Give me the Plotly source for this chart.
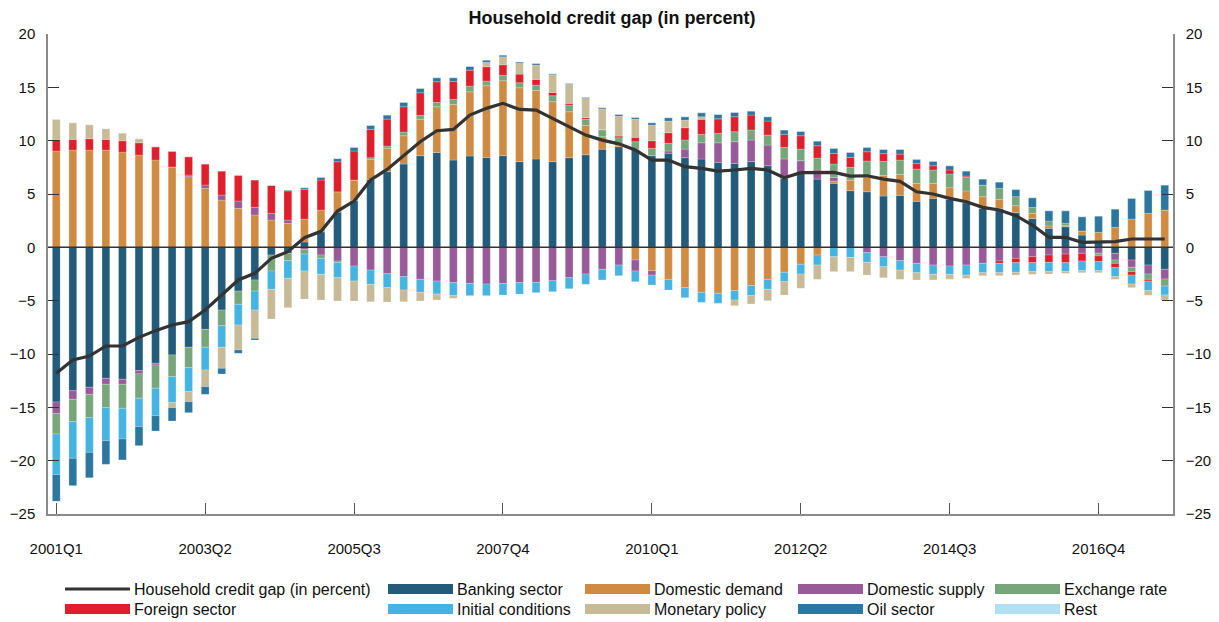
"""
    Purpose: Household credit gap decomposition, stacked contributions by driver plus the gap itself.
    Outputs:
        out.html: self-contained html file with the chart.
"""
##########==========##########==========##########==========##########==========##########==========
## INITIALIZE

import plotly.graph_objects as go

## quarters 2001Q1 .. 2017Q4
quarters = ['%dQ%d' % (y, q) for y in range(2001, 2018) for q in range(1, 5)]
tick_quarters = ['2001Q1', '2003Q2', '2005Q3', '2007Q4', '2010Q1', '2012Q2', '2014Q3', '2016Q4']

credit_gap = [
    -11.8, -10.56, -10.19, -9.25, -9.25, -8.44, -7.81, -7.28, -6.97, -5.88,
    -4.47, -3.06, -2.44, -1.03, -0.41, 0.9, 1.5, 3.4, 4.34, 6.31,
    7.31, 8.65, 9.9, 10.93, 11.06, 12.4, 13.03, 13.5, 12.93, 12.87,
    12.09, 11.37, 10.52, 10.05, 9.7, 9.12, 8.18, 8.18, 7.56, 7.4,
    7.15, 7.25, 7.4, 7.25, 6.53, 7.0, 7.0, 7.03, 6.68, 6.71,
    6.4, 6.18, 5.21, 5.0, 4.59, 4.28, 3.75, 3.5, 2.97, 2.09,
    0.94, 0.94, 0.47, 0.47, 0.53, 0.78, 0.8, 0.78]

banking_sector = [
    -14.5, -13.44, -13.12, -12.28, -12.37, -11.56, -10.87, -10.09, -9.37, -7.69,
    -5.88, -4.1, -3.06, -0.72, -0.56, 0.5, 1.45, 3.3, 4.37, 6.37,
    7.09, 7.81, 8.59, 8.9, 8.18, 8.56, 8.43, 8.59, 8.03, 8.28,
    8.03, 8.4, 8.68, 9.2, 9.43, 9.18, 8.59, 8.81, 8.4, 8.28,
    7.97, 7.87, 8.03, 7.65, 6.47, 7.03, 6.4, 6.0, 5.31, 5.21,
    4.81, 4.87, 4.31, 4.59, 4.5, 4.18, 3.65, 3.65, 3.25, 2.69,
    1.78, 1.93, 1.15, 0.6, -0.56, -1.19, -1.66, -2.06]

domestic_demand = [
    9.03, 9.12, 9.12, 9.12, 8.93, 8.65, 8.18, 7.53, 6.62, 5.53,
    4.43, 3.65, 3.03, 2.56, 2.25, 2.15, 2.05, 1.9, 1.94, 1.88,
    2.19, 2.65, 3.41, 4.28, 5.22, 6.02, 6.72, 7.03, 6.93, 6.43,
    5.62, 4.31, 2.75, 1.17, 0.15, -1.19, -2.19, -3.0, -3.78, -4.22,
    -4.31, -4.06, -3.59, -3.0, -2.34, -1.59, -0.72, 0.21, 1.0, 1.35,
    1.92, 1.97, 1.69, 1.41, 1.09, 1.1, 1.1, 0.85, 0.65, 0.5,
    0.22, 0.1, 0.38, 0.81, 1.87, 2.65, 3.19, 3.5]

domestic_supply = [
    -1.1, -0.81, -0.66, -0.56, -0.47, -0.31, -0.16, 0.0, 0.16, 0.31,
    0.47, 0.69, 0.72, 0.63, 0.31, -0.19, -0.72, -1.28, -1.75, -2.13,
    -2.47, -2.75, -3.0, -3.16, -3.31, -3.38, -3.44, -3.38, -3.31, -3.28,
    -3.13, -2.85, -2.5, -2.06, -1.66, -1.03, -0.41, 0.22, 0.81, 1.52,
    1.83, 2.03, 2.03, 1.94, 1.81, 1.09, 0.85, 0.35, 0.0, -0.5,
    -0.88, -1.25, -1.5, -1.66, -1.75, -1.66, -1.5, -1.28, -1.03, -0.88,
    -0.72, -0.63, -0.56, -0.56, -0.63, -0.68, -0.84, -0.91]

exchange_rate = [
    -1.9, -2.09, -2.19, -2.19, -2.25, -2.28, -2.18, -2.04, -1.91, -1.68,
    -1.47, -1.24, -1.04, -1.5, -0.69, -0.44, -0.31, -0.15, 0.0, 0.15,
    0.21, 0.35, 0.37, 0.41, 0.47, 0.54, 0.44, 0.5, 0.47, 0.5,
    0.56, 0.63, 0.57, 0.66, 0.69, 0.72, 0.69, 0.72, 0.85, 0.79,
    0.88, 0.94, 0.94, 0.93, 1.09, 1.09, 1.12, 1.25, 1.19, 1.53,
    1.33, 1.34, 1.34, 1.25, 1.28, 1.28, 1.09, 1.03, 0.85, 0.56,
    0.47, 0.22, 0.0, -0.25, -0.31, -0.41, -0.5, -0.66]

foreign_sector = [
    1.09, 1.0, 1.06, 1.0, 1.06, 1.15, 1.25, 1.47, 1.71, 1.97,
    2.25, 2.41, 2.56, 2.62, 2.72, 2.78, 2.81, 2.82, 2.72, 2.66,
    2.53, 2.37, 2.12, 1.93, 1.69, 1.5, 1.34, 0.99, 0.81, 0.53,
    0.31, 0.16, 0.15, 0.0, 0.16, 0.41, 0.71, 0.99, 1.15, 1.41,
    1.37, 1.4, 1.4, 1.32, 1.22, 1.25, 1.15, 1.0, 0.93, 0.87,
    0.72, 0.56, 0.5, 0.4, 0.38, 0.12, 0.0, -0.22, -0.41, -0.56,
    -0.69, -0.81, -0.72, -0.53, -0.41, -0.32, -0.16, 0.0]

initial_conditions = [
    -3.8, -3.44, -3.25, -3.09, -2.88, -2.66, -2.57, -2.43, -2.25, -2.13,
    -2.02, -1.94, -1.78, -1.72, -1.65, -1.59, -1.5, -1.42, -1.41, -1.34,
    -1.31, -1.25, -1.22, -1.22, -1.22, -1.15, -1.09, -1.09, -1.07, -0.97,
    -1.03, -1.03, -0.97, -1.0, -1.0, -1.0, -0.93, -1.0, -0.94, -0.94,
    -0.94, -0.88, -0.94, -0.94, -0.88, -0.91, -0.94, -0.88, -0.94, -0.91,
    -0.94, -0.88, -0.88, -0.87, -0.78, -0.94, -0.88, -0.88, -0.9, -0.84,
    -0.87, -0.84, -0.91, -0.85, -0.84, -0.84, -0.9, -0.84]

monetary_policy = [
    1.88, 1.56, 1.31, 1.0, 0.72, 0.38, 0.0, -0.47, -0.94, -1.56,
    -1.97, -2.34, -2.65, -2.78, -2.76, -2.63, -2.41, -2.18, -1.87, -1.63,
    -1.35, -1.1, -0.81, -0.56, -0.25, 0.0, 0.41, 0.75, 1.0, 1.35,
    1.66, 1.78, 1.81, 1.95, 1.87, 1.71, 1.47, 1.1, 0.72, 0.24,
    0.0, -0.53, -0.78, -1.06, -1.25, -1.34, -1.34, -1.4, -1.34, -1.19,
    -1.03, -0.87, -0.68, -0.53, -0.47, -0.31, -0.28, -0.28, -0.26, -0.25,
    -0.22, -0.16, -0.19, -0.19, -0.25, -0.34, -0.44, -0.47]

oil_sector = [
    -2.5, -2.56, -2.38, -2.22, -1.96, -1.78, -1.44, -1.25, -1.03, -0.72,
    -0.53, -0.31, -0.16, 0.0, 0.08, 0.16, 0.25, 0.3, 0.34, 0.37,
    0.38, 0.41, 0.41, 0.38, 0.34, 0.34, 0.21, 0.16, 0.13, 0.15,
    0.09, 0.09, 0.1, 0.12, 0.16, 0.16, 0.22, 0.31, 0.31, 0.38,
    0.41, 0.41, 0.37, 0.4, 0.41, 0.41, 0.44, 0.47, 0.47, 0.41,
    0.4, 0.44, 0.41, 0.41, 0.4, 0.47, 0.56, 0.59, 0.68, 0.9,
    0.96, 1.18, 1.34, 1.52, 1.72, 1.94, 2.15, 2.34]

rest = [0.0] * 68

series_names = ['Banking sector', 'Domestic demand', 'Domestic supply', 'Exchange rate',
                'Foreign sector', 'Initial conditions', 'Monetary policy', 'Oil sector', 'Rest']
series_values = [banking_sector, domestic_demand, domestic_supply, exchange_rate,
                 foreign_sector, initial_conditions, monetary_policy, oil_sector, rest]
line_name = 'Household credit gap (in percent)'

## define parameters
params = dict()
params['width'] = 1219
params['height'] = 622
params['font'] = 'Liberation Sans, Arial, Helvetica, sans-serif'
params['colors'] = {
    'Banking sector': '#235b7b',
    'Domestic demand': '#d08b42',
    'Domestic supply': '#985a98',
    'Exchange rate': '#77a67b',
    'Foreign sector': '#e01f2d',
    'Initial conditions': '#45b4e2',
    'Monetary policy': '#c7ba97',
    'Oil sector': '#2c779f',
    'Rest': '#b2dff2',
    }
params['line_color'] = '#333333'
params['axis_color'] = '#8a8a8a'
params['plot_box'] = (48, 1173, 514, 34)   # left, right, bottom, top in pixels


##########==========##########==========##########==========##########==========##########==========
## COMPONENT FUNCTIONS

def build_traces():
    """Stacked contribution bars plus the credit gap line"""
    traces = []
    for name, values in zip(series_names, series_values):
        traces.append(go.Bar(
            x = quarters, y = values, name = name,
            marker = dict(color = params['colors'][name],
                          line = dict(color = 'rgba(255,255,255,0.35)', width = 0.6)),
            width = 0.47, showlegend = False,
            ))
    traces.append(go.Scatter(
        x = quarters, y = credit_gap, name = line_name, mode = 'lines',
        line = dict(color = params['line_color'], width = 3.2), showlegend = False,
        ))
    ## invisible twin so that the right-hand axis is drawn
    traces.append(go.Scatter(
        x = quarters, y = credit_gap, yaxis = 'y2', mode = 'lines',
        line = dict(width = 0), hoverinfo = 'skip', showlegend = False,
        ))
    return traces


def build_legend():
    """Hand-drawn legend with wide swatches, two rows of five"""
    plot_l, plot_r, plot_b, plot_t = params['plot_box']
    to_px = lambda x: (x - plot_l) / (plot_r - plot_l)
    to_py = lambda y: (plot_b - y) / (plot_b - plot_t)
    entries = [line_name] + series_names
    swatch_x = [65, 388, 585, 798, 995]
    row_y = [589, 609]
    shapes, annotations = [], []
    for i, name in enumerate(entries):
        row, col = divmod(i, 5)
        x0, y0 = swatch_x[col], row_y[row]
        if name == line_name:
            shapes.append(dict(type = 'line', xref = 'paper', yref = 'paper',
                               x0 = to_px(x0), x1 = to_px(x0 + 65), y0 = to_py(y0), y1 = to_py(y0),
                               line = dict(color = params['line_color'], width = 3)))
        else:
            shapes.append(dict(type = 'rect', xref = 'paper', yref = 'paper',
                               x0 = to_px(x0), x1 = to_px(x0 + 65),
                               y0 = to_py(y0 - 5), y1 = to_py(y0 + 5),
                               fillcolor = params['colors'][name], line = dict(width = 0)))
        annotations.append(dict(text = name, xref = 'paper', yref = 'paper',
                                x = to_px(x0 + 67), y = to_py(y0), xanchor = 'left',
                                yanchor = 'middle', showarrow = False,
                                font = dict(size = 16, color = '#111111')))
    return shapes, annotations


def create_figure():
    fig = go.Figure(build_traces())
    shapes, annotations = build_legend()
    ## zero line drawn over the bars
    shapes.append(dict(type = 'line', xref = 'paper', yref = 'y', x0 = 0, x1 = 1, y0 = 0, y1 = 0,
                       line = dict(color = '#333333', width = 1.5), layer = 'above'))
    yaxis_common = dict(
        range = [-25, 20], tickvals = [-25, -20, -15, -10, -5, 0, 5, 10, 15, 20],
        ticks = 'inside', ticklen = 11, tickcolor = '#333333', tickwidth = 1,
        showline = True, linecolor = params['axis_color'], linewidth = 1.5,
        showgrid = False, zeroline = False, ticklabelstandoff = 8, automargin = False,
        tickfont = dict(size = 15, color = '#111111'),
        )
    l, r, b, t = params['plot_box']
    fig.update_layout(
        width = params['width'], height = params['height'],
        margin = dict(l = l, r = params['width'] - r, t = t, b = params['height'] - b,
                      autoexpand = False),
        paper_bgcolor = 'white', plot_bgcolor = 'white',
        font = dict(family = params['font'], color = '#111111'),
        barmode = 'relative', bargap = 0.5,
        title = dict(text = '<b>Household credit gap (in percent)</b>', x = 0.502, xanchor = 'center',
                     y = 1 - 18 / params['height'], yanchor = 'middle',
                     font = dict(size = 18, color = '#111111')),
        xaxis = dict(
            type = 'category', categoryorder = 'array', categoryarray = quarters,
            range = [-0.5, len(quarters) - 0.5],
            tickvals = tick_quarters, ticktext = tick_quarters,
            ticks = 'inside', ticklen = 11, tickcolor = '#555555', tickwidth = 1,
            showline = True, linecolor = params['axis_color'], linewidth = 1.5,
            showgrid = False, ticklabelstandoff = 20, automargin = False,
            tickfont = dict(size = 15, color = '#111111'),
            ),
        yaxis = dict(side = 'left', **yaxis_common),
        yaxis2 = dict(side = 'right', overlaying = 'y', **yaxis_common),
        shapes = shapes, annotations = annotations,
        showlegend = False,
        )
    return fig


##########==========##########==========##########==========##########==========##########==========
## TOP-LEVEL

if __name__ == '__main__':
    fig = create_figure()
    ## drop the default page margin so the figure fills the window exactly, and hide the modebar
    fig.write_html('out.html', config = {'displayModeBar': False},
                   post_script = "document.body.style.margin = '0';")

##########==========##########==========##########==========##########==========##########==========
